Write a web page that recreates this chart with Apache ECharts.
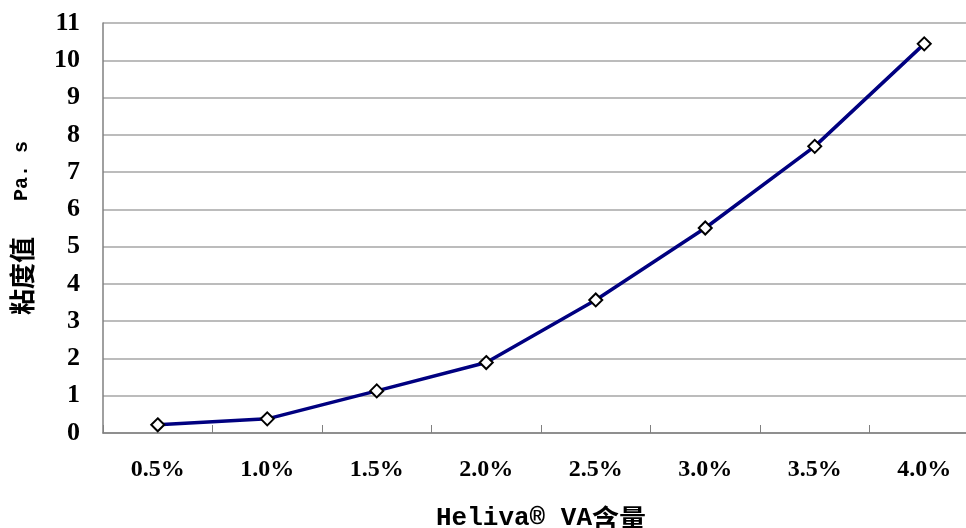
<!DOCTYPE html>
<html>
<head>
<meta charset="utf-8">
<script src="https://cdn.jsdelivr.net/npm/echarts@6/dist/echarts.min.js"></script>
<style>
  html, body { margin: 0; padding: 0; background: #ffffff; }
  #chart { width: 966px; height: 528px; }
</style>
</head>
<body>
<div id="chart"></div>
<script>
// Viscosity of the solution versus Heliva VA content
const categories = ['0.5%', '1.0%', '1.5%', '2.0%', '2.5%', '3.0%', '3.5%', '4.0%'];
const viscosity = [0.22, 0.38, 1.13, 1.89, 3.57, 5.5, 7.69, 10.44];
const yMin = 0;
const yMax = 11;
const yStep = 1;

const chart = echarts.init(document.getElementById('chart'));

const latinName = { fontFamily: 'Liberation Mono', fontWeight: 'bold', fontSize: 22, color: '#000' };
const cjkName = { fontFamily: 'Noto Sans CJK SC', fontWeight: 'bold', fontSize: 26, color: '#000' };

chart.setOption({
  animation: false,
  backgroundColor: '#ffffff',
  grid: {
    left: 103, top: 23, width: 876, height: 410,
    containLabel: false,
    outerBoundsMode: 'none'
  },
  xAxis: {
    type: 'category',
    data: categories,
    boundaryGap: true,
    name: '{a|Heliva® VA}{b|含量}',
    nameLocation: 'middle',
    nameGap: 72,
    nameTextStyle: {
      rich: {
        a: Object.assign({}, latinName, { fontSize: 26 }),
        b: Object.assign({}, cjkName, { fontSize: 27 })
      }
    },
    axisLine: { lineStyle: { color: '#808080', width: 1.5 } },
    axisTick: { show: true, inside: true, length: 8, lineStyle: { color: '#808080' } },
    axisLabel: {
      margin: 25,
      fontFamily: 'Liberation Serif',
      fontWeight: 'bold',
      fontSize: 24,
      color: '#000'
    },
    splitLine: { show: false }
  },
  yAxis: {
    type: 'value',
    min: yMin,
    max: yMax,
    interval: yStep,
    name: '{b|粘度值}{a|   Pa. s}',
    nameLocation: 'middle',
    nameGap: 68,
    nameRotate: 90,
    nameTextStyle: {
      rich: {
        a: Object.assign({}, latinName, { fontSize: 20 }),
        b: cjkName
      }
    },
    axisLine: { show: true, lineStyle: { color: '#808080', width: 1.5 } },
    axisTick: { show: false },
    axisLabel: {
      margin: 23,
      fontFamily: 'Liberation Serif',
      fontWeight: 'bold',
      fontSize: 26,
      color: '#000'
    },
    splitLine: { show: true, lineStyle: { color: '#a6a6a6', width: 1.5 } }
  },
  series: [{
    type: 'line',
    data: viscosity,
    symbol: 'diamond',
    symbolSize: 13,
    showAllSymbol: true,
    lineStyle: { color: '#000080', width: 3.5 },
    itemStyle: { color: '#ffffff', borderColor: '#000000', borderWidth: 2 },
    z: 3
  }]
});
</script>
</body>
</html>
